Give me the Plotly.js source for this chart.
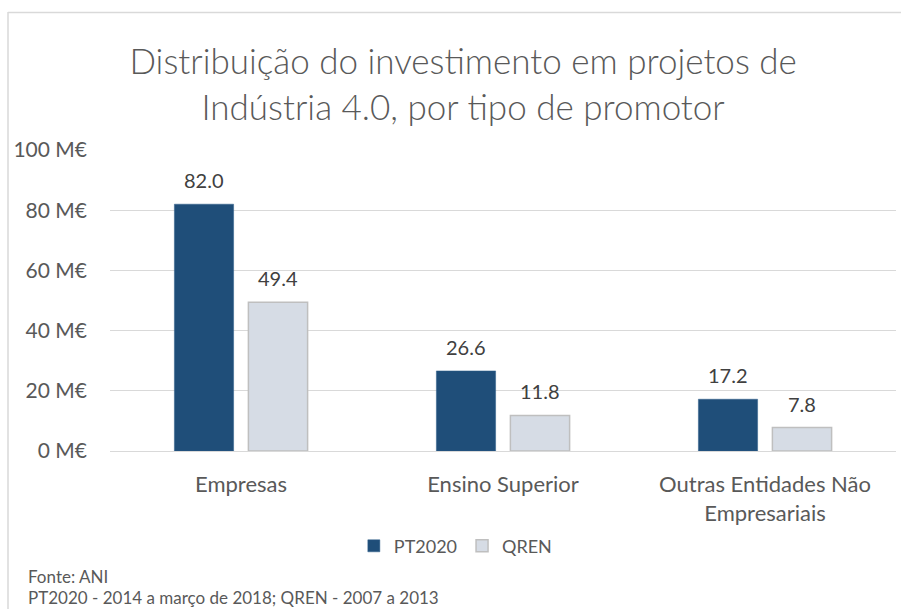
<!DOCTYPE html>
<html><head><meta charset="utf-8">
<script src="https://cdn.plot.ly/plotly-3.0.1.min.js"></script>
<style>html,body{margin:0;padding:0;background:#fff}#chart{width:901px;height:609px}</style>
</head><body><div id="chart"></div>
<script>
const categories = ["Empresas", "Ensino Superior", "Outras Entidades Não<br>Empresariais"];
const pt2020 = [82.0, 26.6, 17.2];
const qren = [49.4, 11.8, 7.8];
const seriesNames = ["PT2020", "QREN"];
const yTickVals = [0, 20, 40, 60, 80, 100];
const yTickText = ["0 M€", "20 M€", "40 M€", "60 M€", "80 M€", "100 M€"];

const FONT = "Lato, 'Open Sans', sans-serif";

const traces = [
  {type:'bar', name:seriesNames[0], x:categories, y:pt2020,
   marker:{color:'#1F4E79', line:{color:'#2E5F8A', width:0.5}}, hoverinfo:'skip'},
  {type:'bar', name:seriesNames[1], x:categories, y:qren,
   marker:{color:'#D6DCE5', line:{color:'#BFBFBF', width:1.5}}, hoverinfo:'skip'}
];

// value labels placed through the axes, offset to each bar of the group
const labelAnns = [];
[pt2020, qren].forEach((vals, si) => {
  vals.forEach((v, i) => {
    labelAnns.push({x:categories[i], y:v, xref:'x', yref:'y', text:v.toFixed(1), showarrow:false,
      xanchor:'center', yanchor:'middle', xshift:(si === 0 ? -37 : 37), yshift:24,
      font:{family:FONT, size:20, color:'#404040'}});
  });
});

const layout = {
  width:901, height:609,
  margin:{l:110, r:5, t:150, b:158},
  paper_bgcolor:'#fff', plot_bgcolor:'#fff',
  font:{family:FONT, color:'#595959', size:16},
  title:{text:'Distribuição do investimento em projetos de<br>Indústria 4.0, por tipo de promotor',
         font:{family:FONT, size:35, color:'#595959', weight:300},
         x:0.514, xanchor:'center', y:0.878, yanchor:'top', yref:'container'},
  barmode:'group', bargap:0.435, bargroupgap:0.2,
  showlegend:true,
  legend:{orientation:'h', x:0.44, xanchor:'center', y:-0.316, yanchor:'middle',
          font:{family:FONT, size:18, color:'#595959'}, traceorder:'normal'},
  xaxis:{showgrid:false, zeroline:false, showline:false,
         ticks:'outside', ticklen:14, tickcolor:'rgba(0,0,0,0)',
         tickfont:{family:FONT, size:22, color:'#595959'}},
  yaxis:{range:[0,100], tickvals:yTickVals, ticktext:yTickText,
         showgrid:true, gridcolor:'#D9D9D9', gridwidth:1, zeroline:true, zerolinecolor:'#D9D9D9',
         showline:false, ticks:'', ticklabelstandoff:22,
         tickfont:{family:FONT, size:21, color:'#595959'}},
  shapes:[
    {type:'line', xref:'paper', yref:'paper', x0:(8-110)/786, x1:(8-110)/786, y0:1+(150-12)/301, y1:-158/301,
     line:{color:'#D9D9D9', width:1.5}},
    {type:'line', xref:'paper', yref:'paper', x0:(8-110)/786, x1:(901-110)/786, y0:1+(150-12.5)/301, y1:1+(150-12.5)/301,
     line:{color:'#D9D9D9', width:1.5}}
  ],
  annotations:labelAnns.concat([
    {xref:'paper', yref:'paper', x:(26-110)/786, y:-(576-451)/301, xanchor:'left', yanchor:'middle',
     text:'Fonte: ANI', showarrow:false, font:{family:FONT, size:17, color:'#595959'}},
    {xref:'paper', yref:'paper', x:(26-110)/786, y:-(597-451)/301, xanchor:'left', yanchor:'middle',
     text:'PT2020 - 2014 a março de 2018; QREN - 2007 a 2013', showarrow:false, font:{family:FONT, size:17, color:'#595959'}}
  ])
};
Plotly.newPlot('chart', traces, layout, {displayModeBar:false, staticPlot:true});
</script></body></html>
